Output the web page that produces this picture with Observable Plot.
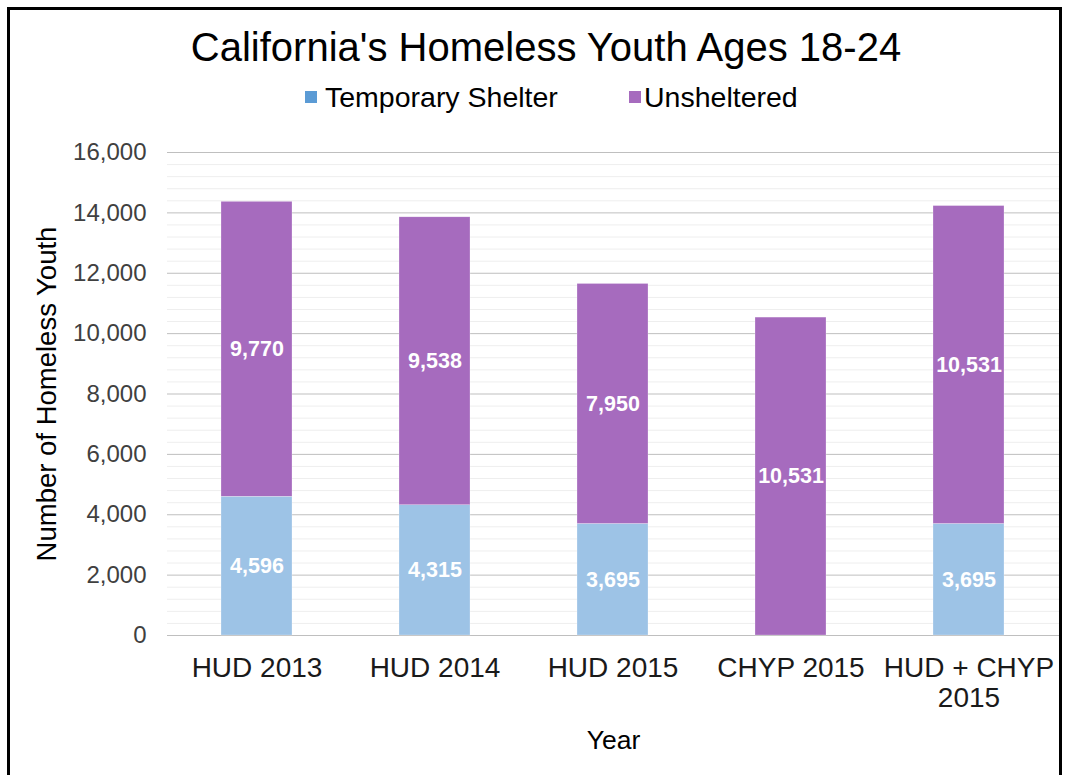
<!DOCTYPE html>
<html>
<head>
<meta charset="utf-8">
<script src="https://cdn.jsdelivr.net/npm/d3@7"></script>
<script src="https://cdn.jsdelivr.net/npm/@observablehq/plot@0.6"></script>
<style>
  html, body { margin: 0; padding: 0; background: #fff; overflow: hidden; }
  body { width: 1066px; height: 775px; position: relative; font-family: "Liberation Sans", Arial, sans-serif; }
  #frame { position: absolute; left: 7px; top: 7px; width: 1049px; height: 900px; border: 3px solid #000; box-sizing: content-box; }
  #title { position: absolute; left: 0; top: 26px; width: 1092px; text-align: center; font-size: 40px; line-height: 42px; color: #000; white-space: nowrap; }
  .leg { position: absolute; top: 81px; font-size: 28.5px; line-height: 32px; color: #000; white-space: nowrap; }
  .sw { position: absolute; top: 91px; width: 12px; height: 12px; }
  #chart { position: absolute; left: 0; top: 125px; }
</style>
</head>
<body>
<div id="frame"></div>
<div id="title"></div>
<div id="legend"></div>
<div id="chart"></div>
<script>
const title = "California's Homeless Youth Ages 18-24";
const categories = ["HUD 2013", "HUD 2014", "HUD 2015", "CHYP 2015", "HUD + CHYP 2015"];
const xTickLabels = ["HUD 2013", "HUD 2014", "HUD 2015", "CHYP 2015", "HUD + CHYP\n2015"];
const seriesNames = ["Temporary Shelter", "Unsheltered"];
const tempShelter = [4596, 4315, 3695, 0, 3695];
const unsheltered = [9770, 9538, 7950, 10531, 10531];
const yTicks = [0, 2000, 4000, 6000, 8000, 10000, 12000, 14000, 16000];
const minorTicks = d3.range(0, 16001, 400).filter(v => v % 2000 !== 0);
const barColors = ["#9DC3E6", "#A66BBE"];
const legendColors = ["#5B9BD5", "#A66BBE"];

document.getElementById("title").textContent = title;

// legend
const legend = document.getElementById("legend");
const legPos = [{sw: 305, tx: 325}, {sw: 629, tx: 644}];
seriesNames.forEach((s, i) => {
  const sw = document.createElement("div");
  sw.className = "sw";
  sw.style.left = legPos[i].sw + "px";
  sw.style.background = legendColors[i];
  legend.appendChild(sw);
  const t = document.createElement("div");
  t.className = "leg";
  t.style.left = legPos[i].tx + "px";
  t.textContent = s;
  legend.appendChild(t);
});

const data = categories.flatMap((c, i) => [
  {cat: c, series: seriesNames[0], value: tempShelter[i]},
  {cat: c, series: seriesNames[1], value: unsheltered[i]}
]);

const fmt = d3.format(",");

const plot = Plot.plot({
  width: 1066,
  height: 640,
  marginTop: 27,
  marginBottom: 130,
  marginLeft: 167,
  marginRight: 7,
  style: {fontFamily: "'Liberation Sans', Arial, sans-serif", background: "transparent", overflow: "visible"},
  x: {type: "band", domain: categories, paddingInner: 0.6, paddingOuter: 0.3, label: null},
  y: {domain: [0, 16000], label: null},
  color: {domain: seriesNames, range: barColors},
  marks: [
    Plot.ruleY(minorTicks, {stroke: "#eeeeee", strokeWidth: 1}),
    Plot.ruleY(yTicks, {stroke: "#bfbfbf", strokeWidth: 1}),
    Plot.barY(data, Plot.stackY({x: "cat", y: "value", fill: "series", z: "series", stroke: "#ffffff", strokeOpacity: 0.5, strokeWidth: 0.5})),
    Plot.text(data.filter(d => d.value > 0), Plot.stackY({
      x: "cat", y: "value", z: "series",
      text: d => fmt(d.value), fill: "white", fontWeight: "bold", fontSize: 21.5
    })),
    Plot.axisY({ticks: yTicks, tickFormat: fmt, tickSize: 0, tickPadding: 21, fontSize: 24, color: "#404040", label: null}),
    Plot.axisX({tickSize: 0, tickPadding: 20, fontSize: 28, lineHeight: 1.08, color: "#1a1a1a", label: null,
      tickFormat: d => xTickLabels[categories.indexOf(d)]}),
    Plot.text(["Number of Homeless Youth"], {frameAnchor: "left", rotate: -90, textAnchor: "middle", dx: -120, fontSize: 27.5, fill: "#000"}),
    Plot.text(["Year"], {frameAnchor: "bottom", dy: 113, fontSize: 26.5, fill: "#000"})
  ]
});
document.getElementById("chart").appendChild(plot);
</script>
</body>
</html>
